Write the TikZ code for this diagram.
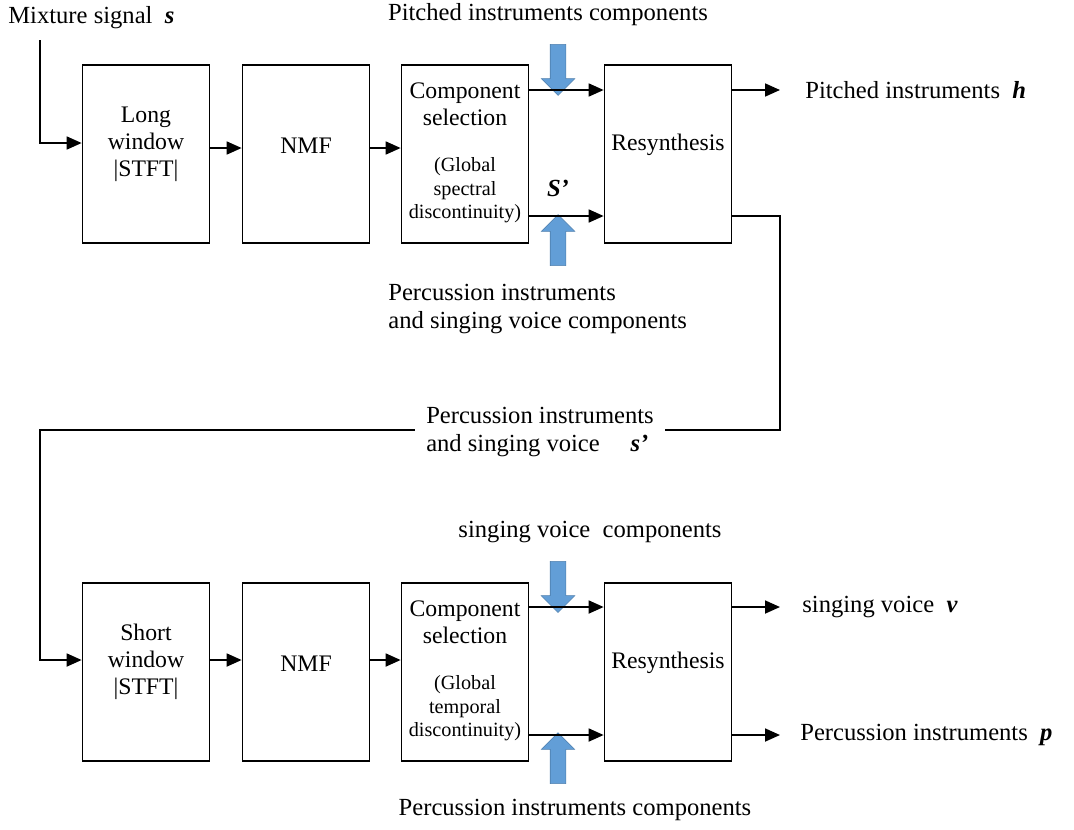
\documentclass[tikz,border=0pt]{standalone}
\usepackage{fontspec}
\setmainfont{Liberation Serif}
\usetikzlibrary{arrows.meta,shapes.arrows}
\definecolor{arrowblue}{RGB}{98,158,215}
\newcommand{\boxfont}{\fontsize{13.5}{15.5}\selectfont}
\newcommand{\notefont}{\fontsize{11.5}{13.2}\selectfont}
\newcommand{\lblfont}{\fontsize{14}{15.5}\selectfont}
\newcommand{\sym}[1]{\textbf{\textit{#1}}}
\newcommand{\note}[1]{{\notefont\begin{tabular}{@{}c@{}}#1\end{tabular}}}
\newcommand{\lines}[2]{\raisebox{#1}[0pt][0pt]{\begin{tabular}{@{}c@{}}#2\end{tabular}}}
\tikzset{
  stage/.style={draw, line width=1pt, minimum width=2.54cm, minimum height=3.56cm,
    align=center, font=\boxfont, inner sep=2pt},
  lbl/.style={font=\lblfont, inner sep=0pt},
  flow/.style={line width=1pt, -{Triangle[length=0.3cm,width=0.26cm]}},
  wire/.style={line width=1pt},
  inarrow/.style={single arrow, fill=arrowblue, draw=arrowblue!80!black, line width=0.3pt,
    minimum height=1.02cm, single arrow head extend=0.18cm,
    inner xsep=0pt, inner ysep=0.15cm},
}
\begin{document}
\begin{tikzpicture}[x=0.02cm,y=-0.02cm]
  \useasboundingbox (0,0) rectangle (1074,829);

  % upper chain: long window
  \node[lbl, anchor=west] (mix) at (8,18) {Mixture signal \ \sym{s}};
  \coordinate (mixin) at (40,40);
  \node[stage] (lw1) at (146,154) {\lines{2pt}{Long\\window\\|STFT|}};
  \node[stage] (nmf1) at (306,154) {\lines{0pt}{NMF}};
  \node[stage] (cs1) at (465,154) {Component\\selection\\[16pt]\note{(Global\\spectral\\discontinuity)}};
  \node[stage] (rs1) at (668,154) {\lines{1.5pt}{Resynthesis}};

  \node[lbl] (pic) at (548,15) {Pitched instruments components};
  \node[inarrow, rotate=270] (pia) at (558,66) {};
  \node[inarrow, rotate=90] (psa) at (558,244) {};
  \node[lbl, anchor=west, align=left] (psc) at (388,309) {Percussion instruments\\and singing voice components};
  \node[lbl, inner sep=0pt] (sS) at (558,188) {\sym{S’}};

  \node[lbl, anchor=west, inner xsep=0.5cm] (ph) at (780,90) {Pitched instruments \ \sym{h}};

  \draw[flow] (mixin) |- (lw1.west |- 0,143);
  \draw[flow] (lw1.east |- 0,148) -- (nmf1.west |- 0,148);
  \draw[flow] (nmf1.east |- 0,148) -- (cs1.west |- 0,148);
  \draw[flow] (cs1.east |- 0,90) -- (rs1.west |- 0,90);
  \draw[flow] (cs1.east |- 0,216) -- (rs1.west |- 0,216);
  \draw[flow] (rs1.east |- 0,90) -- (ph.west);

  % residual s' fed back to the lower chain
  \node[lbl, align=left, inner xsep=0.22cm] (res) at (540,432) {Percussion instruments\\and singing voice \quad \sym{s’}};
  \draw[wire] (rs1.east |- 0,216) -- (780,216) -- (780,430) -- (res.east |- 0,430);

  % lower chain: short window
  \node[stage] (sw2) at (146,672) {\lines{2pt}{Short\\window\\|STFT|}};
  \node[stage] (nmf2) at (306,672) {\lines{0pt}{NMF}};
  \node[stage] (cs2) at (465,672) {Component\\selection\\[16pt]\note{(Global\\temporal\\discontinuity)}};
  \node[stage] (rs2) at (668,672) {\lines{1.5pt}{Resynthesis}};

  \node[lbl] (svc) at (590,532) {singing voice \ components};
  \node[inarrow, rotate=270] (sva) at (558,583) {};
  \node[inarrow, rotate=90] (pca) at (558,762) {};
  \node[lbl] (pcc) at (575,810) {Percussion instruments components};

  \node[lbl, anchor=west, inner xsep=0.44cm] (sv) at (780,607) {singing voice \ \sym{v}};
  \node[lbl, anchor=west, inner xsep=0.4cm] (pp) at (780,735) {Percussion instruments \ \sym{p}};

  \draw[flow] (res.west |- 0,430) -- (40,430) |- (sw2.west |- 0,660);
  \draw[flow] (sw2.east |- 0,660) -- (nmf2.west |- 0,660);
  \draw[flow] (nmf2.east |- 0,660) -- (cs2.west |- 0,660);
  \draw[flow] (cs2.east |- 0,607) -- (rs2.west |- 0,607);
  \draw[flow] (cs2.east |- 0,735) -- (rs2.west |- 0,735);
  \draw[flow] (rs2.east |- 0,607) -- (sv.west);
  \draw[flow] (rs2.east |- 0,735) -- (pp.west);
\end{tikzpicture}
\end{document}
